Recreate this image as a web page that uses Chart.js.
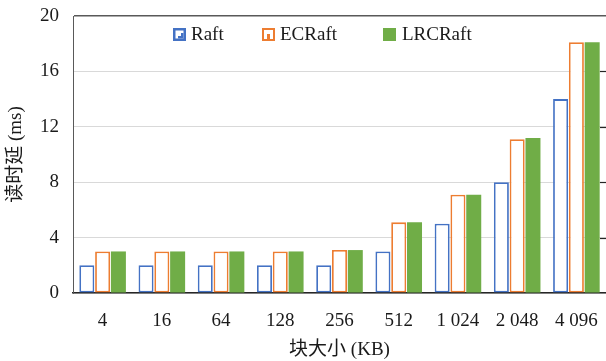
<!DOCTYPE html>
<html>
<head>
<meta charset="utf-8">
<script src="https://cdn.jsdelivr.net/npm/chart.js@4/dist/chart.umd.min.js"></script>
<style>
  html, body { margin: 0; padding: 0; background: #fff; overflow: hidden; }
  #wrap { width: 606px; height: 361px; }
</style>
</head>
<body>
<div id="wrap"><canvas id="c" width="606" height="361"></canvas></div>
<script>
// Block sizes (KB) and read latency (ms) per scheme
const categories = ['4', '16', '64', '128', '256', '512', '1 024', '2 048', '4 096'];
const raft = [2, 2, 2, 2, 2, 3, 5, 8, 14];
const ecRaft = [3, 3, 3, 3, 3.1, 5.1, 7.1, 11.1, 18.1];
const lrcRaft = [3, 3, 3, 3, 3.1, 5.1, 7.1, 11.2, 18.1];
const yTicks = [0, 4, 8, 12, 16, 20];

const BLUE = '#4472C4';
const ORANGE = '#ED7D31';
const GREEN = '#70AD47';
const FONT = '"Liberation Serif", "Noto Sans CJK SC", serif';
const TEXT = '#1a1a1a';

// Legend drawn inside the plot area, near the top
const insideLegend = {
  id: 'insideLegend',
  afterDraw(chart) {
    const ctx = chart.ctx;
    const items = [
      { icon: 173, text: 191 },
      { icon: 262, text: 280 },
      { icon: 383, text: 402 }
    ];
    ctx.save();
    ctx.font = '19px ' + FONT;
    ctx.textBaseline = 'alphabetic';
    ctx.fillStyle = TEXT;
    chart.data.datasets.forEach((ds, i) => {
      const x = items[i].icon, y = 28, s = 13;
      if (i === 0) {
        ctx.fillStyle = BLUE;
        ctx.fillRect(x, y, s, s);
        ctx.fillStyle = '#fff';
        ctx.fillRect(x + 2.5, y + 2.5, s - 5, s - 5);
        ctx.fillStyle = BLUE;
        ctx.fillRect(x + 5, y + 5, s - 7.5, s - 7.5);
        ctx.fillStyle = '#fff';
        ctx.fillRect(x + 5, y + 5, 3, 3);
      } else if (i === 1) {
        ctx.fillStyle = ORANGE;
        ctx.fillRect(x, y, s, s);
        ctx.fillStyle = '#fff';
        ctx.fillRect(x + 2, y + 2, s - 4, s - 4);
        ctx.fillStyle = ORANGE;
        ctx.fillRect(x + 5, y + 6, 3, s - 8);
      } else {
        ctx.fillStyle = GREEN;
        ctx.fillRect(x, y, s, s);
      }
      ctx.fillStyle = TEXT;
      ctx.fillText(ds.label, items[i].text, 40);
    });
    ctx.restore();
  }
};

// Short inward tick marks along the right edge of the plot
const rightTicks = {
  id: 'rightTicks',
  afterDraw(chart) {
    const y = chart.scales.y;
    const right = chart.chartArea.right;
    const ctx = chart.ctx;
    ctx.save();
    ctx.strokeStyle = '#262626';
    ctx.lineWidth = 1.2;
    yTicks.slice(1, -1).forEach(v => {
      const py = Math.round(y.getPixelForValue(v)) + 0.5;
      ctx.beginPath();
      ctx.moveTo(right - 6, py);
      ctx.lineTo(right, py);
      ctx.stroke();
    });
    ctx.restore();
  }
};

new Chart(document.getElementById('c'), {
  type: 'bar',
  data: {
    labels: categories,
    datasets: [
      { label: 'Raft', data: raft, backgroundColor: '#fff', borderColor: BLUE, borderWidth: 1.8, borderSkipped: false },
      { label: 'ECRaft', data: ecRaft, backgroundColor: '#fff', borderColor: ORANGE, borderWidth: 1.8, borderSkipped: false },
      { label: 'LRCRaft', data: lrcRaft, backgroundColor: GREEN, borderColor: GREEN, borderWidth: 0 }
    ]
  },
  options: {
    responsive: false,
    animation: false,
    devicePixelRatio: 1,
    layout: { padding: { top: 16, right: 0, left: 0, bottom: 0 } },
    datasets: { bar: { categoryPercentage: 0.8, barPercentage: 0.95 } },
    plugins: {
      legend: { display: false },
      tooltip: { enabled: false }
    },
    scales: {
      x: {
        grid: { display: false },
        border: { display: true, color: '#262626', width: 1.5 },
        ticks: { color: TEXT, font: { family: FONT, size: 19 }, padding: 9, maxRotation: 0 },
        title: {
          display: true, text: '块大小 (KB)', color: TEXT,
          font: { family: FONT, size: 19 }, padding: { top: 0, bottom: 0 }
        },
        afterFit(s) {
          s.height = 68;
          s.paddingLeft = 0;
          s.paddingRight = 0;
        }
      },
      y: {
        min: 0, max: 20,
        afterBuildTicks(s) { s.ticks = yTicks.map(v => ({ value: v })); },
        grid: {
          drawTicks: false,
          color: ctx => (ctx.tick && ctx.tick.value === 20) ? '#595959' : '#d9d9d9',
          lineWidth: ctx => (ctx.tick && ctx.tick.value === 20) ? 1.5 : 1
        },
        border: { display: true, color: '#595959', width: 1 },
        ticks: { color: TEXT, font: { family: FONT, size: 19 }, padding: 14 },
        title: {
          display: true, text: '读时延 (ms)', color: TEXT,
          font: { family: FONT, size: 19 }, padding: { top: 5, bottom: 0 }
        },
        afterFit(s) {
          s.width = 73;
          s.paddingTop = 0;
          s.paddingBottom = 0;
        }
      }
    }
  },
  plugins: [insideLegend, rightTicks]
});
</script>
</body>
</html>
